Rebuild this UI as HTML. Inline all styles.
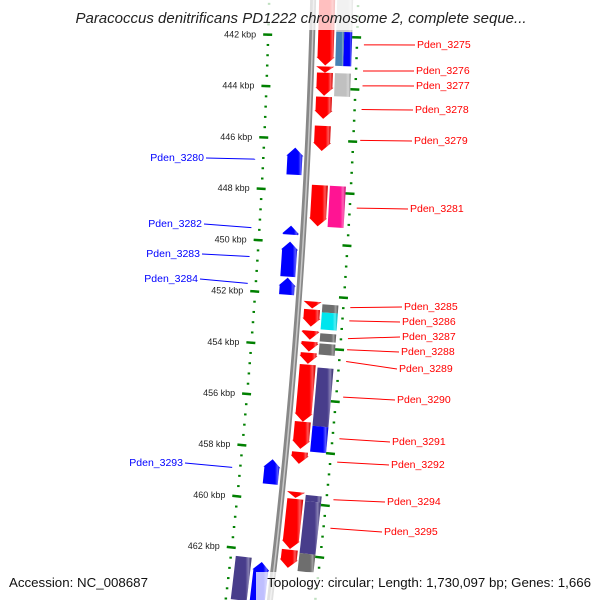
<!DOCTYPE html>
<html><head><meta charset="utf-8"><style>
body{margin:0;background:#fff;}
svg{display:block;font-family:"Liberation Sans","DejaVu Sans",sans-serif;}
</style></head><body>
<svg id="chart" width="600" height="600" viewBox="0 0 600 600">
<defs>
<linearGradient id="shade" x1="0" x2="1" y1="0" y2="0"><stop offset="0" stop-color="#fff" stop-opacity="0.0"/><stop offset="0.7" stop-color="#fff" stop-opacity="0.0"/><stop offset="0.85" stop-color="#fff" stop-opacity="0.35"/><stop offset="1" stop-color="#000" stop-opacity="0.15"/></linearGradient>
</defs>
<g id="ticks"></g><g id="backbone"></g><g id="feats"></g><g id="labels"></g>
<rect x="0" y="0" width="600" height="30" fill="#fff" fill-opacity="0.75"/>
<text x="301" y="23" text-anchor="middle" font-size="15" font-style="italic" fill="#222">Paracoccus denitrificans PD1222 chromosome 2, complete seque...</text>
<text x="9" y="587" font-size="13.3" fill="#111">Accession: NC_008687</text>
<rect x="256" y="572" width="344" height="28" fill="#fff" fill-opacity="0.75"/>
<text x="591" y="587" text-anchor="end" font-size="13.3" fill="#111">Topology: circular; Length: 1,730,097 bp; Genes: 1,666</text>
</svg>
<script>
// ---- data (kbp) ----
const fwdStart=[440.0,443.16,443.40,444.33,445.45,447.74,452.23,452.54,453.36,453.78,454.21,454.67,456.88,458.05,459.60,459.87,461.84];
const fwdEnd  =[443.12,443.40,444.29,445.18,446.42,449.33,452.50,453.20,453.71,454.17,454.64,456.88,457.93,458.51,459.83,461.81,462.54];
const fwdColor=["#ff0000","#ff0000","#ff0000","#ff0000","#ff0000","#ff0000","#ff0000","#ff0000","#ff0000","#ff0000","#ff0000","#ff0000","#ff0000","#ff0000","#ff0000","#ff0000","#ff0000"];
const t2Start=[440.0,441.81,441.81,443.40,447.74,452.31,452.62,453.43,453.82,454.75,457.0,459.67,459.91,461.92];
const t2End  =[441.81,443.12,443.12,444.29,449.33,452.62,453.28,453.74,454.25,457.0,458.0,459.91,461.92,462.62];
const t2Color=["#c8c8c8","#4682b4","#0000ff","#c0c0c0","#ff1493","#6e6e6e","#00e5ee","#6e6e6e","#6e6e6e","#483d8b","#0000ff","#483d8b","#483d8b","#6e6e6e"];
const t2Half =[0,1,2,0,0,0,0,0,0,0,0,0,0,0];
const revStart=[446.34,449.36,449.98,451.38,458.43,462.43];
const revEnd  =[447.39,449.71,451.34,452.04,459.40,464.0];
const revColor=["#0000ff","#0000ff","#0000ff","#0000ff","#0000ff","#0000ff"];
const rev2Start=[462.31];
const rev2End=[464.0];
const rev2Color=["#483d8b"];
const rLabels=["Pden_3275","Pden_3276","Pden_3277","Pden_3278","Pden_3279","Pden_3281","Pden_3285","Pden_3286","Pden_3287","Pden_3288","Pden_3289","Pden_3290","Pden_3291","Pden_3292","Pden_3294","Pden_3295"];
const rLabelPos=[442.28,443.28,443.85,444.76,445.94,448.54,452.36,452.87,453.55,453.98,454.43,455.8,457.4,458.3,459.75,460.85];
const lLabels=["Pden_3280","Pden_3282","Pden_3283","Pden_3284","Pden_3293"];
const lLabelPos=[446.86,449.53,450.66,451.71,458.9];
const tickMajor=[442,444,446,448,450,452,454,456,458,460,462];
// ---- layout ----
const rLabelY=[44,70,85,109,140,208,306,321,336,351,368,399,441,464,501,531];
const rLabelX=[417,416,416,415,414,410,404,402,402,401,399,397,392,391,387,384];
const lLabelY=[157,223,253,278,462];
const lLabelX=[204,202,200,198,183];
const NS="http://www.w3.org/2000/svg";
const CX=-6015,CY=-154,R=6330,TH0=0.03002,DTH=0.00409;
function pt(k,off){const t=TH0+(k-442)*DTH;const r=R+off;return [CX+r*Math.cos(t),CY+r*Math.sin(t)];}
function el(tag,attrs,parent){const e=document.createElementNS(NS,tag);for(const a in attrs)e.setAttribute(a,attrs[a]);parent.appendChild(e);return e;}
function P(a){return a.map(p=>p[0].toFixed(2)+","+p[1].toFixed(2)).join(" ");}
const gT=document.getElementById('ticks'),gB=document.getElementById('backbone'),gF=document.getElementById('feats'),gL=document.getElementById('labels');
{const pts=[];for(let k=439;k<=465;k+=0.5)pts.push(pt(k,-3));for(let k=465;k>=439;k-=0.5)pts.push(pt(k,3));
const b=el('polygon',{points:P(pts),fill:'#888'},gB);


const l=[];for(let k=439;k<=465;k+=0.5)l.push(pt(k,0.5));
const h=el('polyline',{points:P(l),fill:'none',stroke:'#c8c8c8','stroke-width':1.5},gB);

}
for(const side of [-44,45]){
 for(let k=440;k<=464.01;k+=0.4){const p=pt(k,side);
  const d=el('rect',{x:p[0]-1.2,y:p[1]-1,width:2.5,height:2,fill:'#008000'},gT);
  
  }
 for(const k of tickMajor){const a=pt(k,side-5),b=pt(k,side+4);
  const t=el('line',{x1:a[0],y1:a[1],x2:b[0],y2:b[1],stroke:'#008000','stroke-width':2.5},gT);
  
  
  if(side<0){const q=pt(k,side-12);
   const tx=el('text',{x:q[0],y:q[1]+3,'text-anchor':'end','font-size':9,fill:'#222'},gT);
   tx.textContent=k+' kbp';
   
   }}
}
function feature(s,e,o1,o2,color,dir,name){
 const head=Math.min(0.32,(e-s));const pts=[];const steps=6;
 if(dir>0){const b=e-head;
  for(let i=0;i<=steps;i++)pts.push(pt(s+(b-s)*i/steps,o1));
  pts.push(pt(b,o1-1));pts.push(pt(e,(o1+o2)/2));pts.push(pt(b,o2+1));
  for(let i=steps;i>=0;i--)pts.push(pt(s+(b-s)*i/steps,o2));
 }else if(dir<0){const b=s+head;
  pts.push(pt(s,(o1+o2)/2));pts.push(pt(b,o2+1));
  for(let i=0;i<=steps;i++)pts.push(pt(b+(e-b)*i/steps,o2));
  for(let i=steps;i>=0;i--)pts.push(pt(b+(e-b)*i/steps,o1));
  pts.push(pt(b,o1-1));
 }else{
  for(let i=0;i<=steps;i++)pts.push(pt(s+(e-s)*i/steps,o1));
  for(let i=steps;i>=0;i--)pts.push(pt(s+(e-s)*i/steps,o2));
 }
 const f=el('polygon',{points:P(pts),fill:color},gF);
 
 
 const sh=el('polygon',{points:P(pts),fill:'url(#shade)'},gF);
 
 
}
for(let i=0;i<fwdStart.length;i++)feature(fwdStart[i],fwdEnd[i],6,22,fwdColor[i],1,'forward-gene');
for(let i=0;i<t2Start.length;i++){let o1=24,o2=40;if(t2Half[i]==1)o2=32;if(t2Half[i]==2)o1=32;
 feature(t2Start[i],t2End[i],o1,o2,t2Color[i],0,'track2-feature');}
for(let i=0;i<revStart.length;i++)feature(revStart[i],revEnd[i],-20,-5,revColor[i],-1,'reverse-gene');
for(let i=0;i<rev2Start.length;i++)feature(rev2Start[i],rev2End[i],-39,-23,rev2Color[i],0,'reverse-track2-feature');
for(let i=0;i<rLabels.length;i++){const p=pt(rLabelPos[i],52);
 const ln=el('line',{x1:p[0],y1:p[1],x2:rLabelX[i]-2,y2:rLabelY[i]+1,stroke:'#ff0000','stroke-width':1},gL);
 
 
 const t=el('text',{x:rLabelX[i],y:rLabelY[i]+4,'font-size':10.5,fill:'#ff0000'},gL);
 t.textContent=rLabels[i];
 
 }
for(let i=0;i<lLabels.length;i++){const p=pt(lLabelPos[i],-52);
 const ln=el('line',{x1:lLabelX[i]+2,y1:lLabelY[i]+1,x2:p[0],y2:p[1],stroke:'#0000ff','stroke-width':1},gL);
 
 
 const t=el('text',{x:lLabelX[i],y:lLabelY[i]+4,'font-size':10.5,fill:'#0000ff','text-anchor':'end'},gL);
 t.textContent=lLabels[i];
 
 }
</script>
</body></html>
